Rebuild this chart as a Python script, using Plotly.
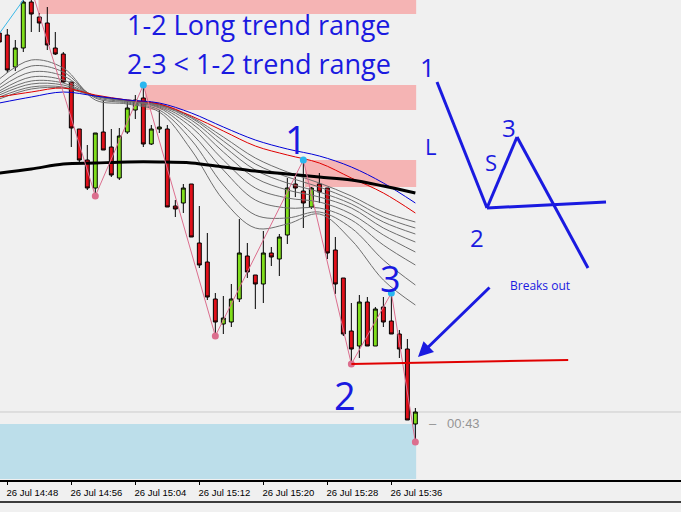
import plotly.graph_objects as go
import pandas as pd

# ---- one-minute candles, 26 Jul 14:47 .. 15:39 (price in points) ----
start = pd.Timestamp("2023-07-26 14:47")
opens  = [447,445,413,432,478,463,457,432,426,398,351,320,292,348,333,302,348,370,382,336,351,351,274,277,296,237,218,181,156,158,181,224,205,196,227,221,245,296,289,273,296,292,230,202,149,134,178,134,173,159,146,131,56]
highs  = [463,451,440,482,491,467,473,448,428,398,351,335,347,380,351,352,380,385,395,355,370,355,280,296,296,274,247,187,184,196,261,237,205,249,233,246,302,303,320,293,307,292,243,202,177,185,183,173,183,187,150,141,72]
lows   = [432,407,409,428,448,448,430,425,397,333,318,290,284,330,303,300,346,361,333,335,347,273,263,267,243,212,180,144,146,153,178,202,171,177,214,204,236,283,252,271,277,221,186,144,116,122,134,134,153,146,122,60,38]
closes = [438,410,432,478,466,457,435,426,398,352,320,292,347,330,305,344,372,380,336,351,353,273,271,292,243,215,183,158,162,181,227,208,196,227,223,243,292,292,277,292,288,227,196,146,131,178,134,171,158,146,131,60,68]
times = [start + pd.Timedelta(minutes=k) for k in range(len(opens))]

# ---- zigzag swing points (minute offset from 14:47, price) ----
zz_min   = [-3, 4, 12, 18, 27, 38, 44, 49, 52]
zz_price = [413, 491, 284, 395, 144, 320, 116, 187, 38]

# ---- moving averages, sampled every 4 minutes ----
ma_min = [0, 4, 8, 12, 16, 20, 24, 28, 32, 36, 40, 44, 48, 52]
ma_slow = [307,311,316,317,318,318,317,313,309,306,303,300,294,287]
ma_blue = [377,383,388,384,380,377,367,353,340,331,324,313,297,277]
ma_red  = [383,388,392,385,380,376,364,349,334,325,317,302,287,267]
ma_grey = [
    [401,420,412,380,376,368,330,280,252,256,266,240,200,175],
    [395,414,408,382,377,370,340,295,265,262,268,252,220,195],
    [392,408,404,383,378,372,347,310,280,272,272,260,235,215],
    [389,403,400,384,379,373,353,320,292,282,278,266,245,228],
    [387,399,397,384,379,374,357,328,302,290,283,272,252,238],
    [385,396,395,384,379,375,360,334,310,297,288,276,258,246],
    [383,393,393,384,379,375,362,339,316,303,293,280,263,252],
    [381,391,392,384,380,376,363,343,322,308,297,284,268,258],
]

# ---- zones (start minute, end minute, low, high) ----
supply_zones = [(4.9, 52.1, 466, 495), (18.2, 52.1, 370, 395), (38.2, 52.1, 293, 320)]
demand_zone = (-2, 52.1, 1, 56)

# ---- breakout line drawn from swing low 2 ----
break_line = [(44, 116), (71.1, 120)]

tick_min = [1, 9, 17, 25, 33, 41, 49]
tick_text = ["26 Jul 14:48", "26 Jul 14:56", "26 Jul 15:04", "26 Jul 15:12",
             "26 Jul 15:20", "26 Jul 15:28", "26 Jul 15:36"]

def t(m):
    return start + pd.Timedelta(seconds=m * 60)

W, H, PLOT_H = 681, 512, 480
BG = "#f0f0f0"
BLUE = "#1a1ae0"
GREEN = "#80de1c"
RED = "#e0101a"

fig = go.Figure()

for z in supply_zones:
    fig.add_shape(type="rect", x0=t(z[0]), x1=t(z[1]), y0=z[2], y1=z[3],
                  fillcolor="#f5b4b4", line_width=0, layer="below")
fig.add_shape(type="rect", x0=t(demand_zone[0]), x1=t(demand_zone[1]),
              y0=demand_zone[2], y1=demand_zone[3],
              fillcolor="#bcdeea", line_width=0, layer="below")

# bid line
fig.add_shape(type="line", xref="paper", x0=0, x1=1, y0=closes[-1], y1=closes[-1],
              line=dict(color="#cbcbcb", width=1), layer="below")

ma_x = [t(m) for m in ma_min]
for g in ma_grey[::-1]:
    fig.add_trace(go.Scatter(x=ma_x, y=g, mode="lines", line=dict(color="#6e6e6e", width=1, shape="spline"),
                             hoverinfo="skip", showlegend=False))
fig.add_trace(go.Scatter(x=ma_x, y=ma_red, mode="lines", line=dict(color="#e00000", width=1, shape="spline"),
                         hoverinfo="skip", showlegend=False))
fig.add_trace(go.Scatter(x=ma_x, y=ma_blue, mode="lines", line=dict(color="#0000d8", width=1, shape="spline"),
                         hoverinfo="skip", showlegend=False))
fig.add_trace(go.Scatter(x=ma_x, y=ma_slow, mode="lines", line=dict(color="#000000", width=3, shape="spline"),
                         hoverinfo="skip", showlegend=False))

fig.add_trace(go.Candlestick(
    x=times, open=opens, high=highs, low=lows, close=closes,
    increasing=dict(line=dict(color="#000000", width=1), fillcolor=GREEN),
    decreasing=dict(line=dict(color="#000000", width=1), fillcolor=RED),
    whiskerwidth=0, showlegend=False, hoverinfo="skip"))

zz_x = [t(m) for m in zz_min]
fig.add_trace(go.Scatter(x=zz_x[:2], y=zz_price[:2], mode="lines",
                         line=dict(color="#3ab8e8", width=1), showlegend=False, hoverinfo="skip"))
fig.add_trace(go.Scatter(x=zz_x[1:], y=zz_price[1:], mode="lines",
                         line=dict(color="#dc6e8e", width=1), showlegend=False, hoverinfo="skip"))
hi_idx = [3, 5, 7]
lo_idx = [2, 4, 6, 8]
fig.add_trace(go.Scatter(x=[zz_x[k] for k in hi_idx], y=[zz_price[k] for k in hi_idx], mode="markers",
                         marker=dict(color="#29b6ee", size=7), showlegend=False, hoverinfo="skip"))
fig.add_trace(go.Scatter(x=[zz_x[k] for k in lo_idx], y=[zz_price[k] for k in lo_idx], mode="markers",
                         marker=dict(color="#dc6e8e", size=7), showlegend=False, hoverinfo="skip"))

fig.add_shape(type="line", x0=t(break_line[0][0]), y0=break_line[0][1],
              x1=t(break_line[1][0]), y1=break_line[1][1], line=dict(color="#e00000", width=2))

def px(x):
    return x / W

def py(y):
    return 1 - y / PLOT_H

# hand-drawn sketch on the right
for (x0, y0, x1, y1) in [(437, 82, 487, 208), (487, 208, 517, 137), (517, 137, 588, 268), (487, 208, 606, 202)]:
    fig.add_shape(type="line", xref="paper", yref="paper", x0=px(x0), y0=py(y0), x1=px(x1), y1=py(y1),
                  line=dict(color=BLUE, width=3))

# bottom frame line under time labels
fig.add_shape(type="line", xref="paper", yref="paper", x0=0, x1=1, y0=py(502), y1=py(502),
              line=dict(color="#000000", width=1.5))

notes = [
    ("1-2 Long trend range", 258, 24, 27),
    ("2-3 &lt; 1-2 trend range", 259, 64, 27),
    ("1", 296, 139, 38),
    ("2", 345, 395, 38),
    ("3", 390, 278, 36),
    ("L", 430, 146, 22),
    ("S", 491, 162, 22),
    ("1", 427, 67, 26),
    ("2", 477, 237, 24),
    ("3", 509, 127, 24),
    ("Breaks out", 540, 285, 12),
]
for txt, x, y, s in notes:
    fig.add_annotation(x=px(x), y=py(y), xref="paper", yref="paper", text=txt, showarrow=False,
                       font=dict(family="Open Sans", size=s, color=BLUE), xanchor="center", yanchor="middle")

fig.add_annotation(x=px(418), y=py(357), xref="paper", yref="paper", ax=73, ay=-71,
                   axref="pixel", ayref="pixel", text="", showarrow=True,
                   arrowhead=2, arrowsize=1, arrowwidth=3, arrowcolor=BLUE)

fig.add_annotation(x=px(427), y=py(423), xref="paper", yref="paper", text="–   00:43", showarrow=False,
                   font=dict(family="Liberation Sans", size=13, color="#959595"), xanchor="left", yanchor="middle")

fig.update_layout(
    width=W, height=H, margin=dict(l=0, r=0, t=0, b=H - PLOT_H),
    paper_bgcolor=BG, plot_bgcolor=BG, showlegend=False,
    xaxis=dict(type="date", range=[t(0.0875), t(85.2)], rangeslider=dict(visible=False),
               showgrid=False, zeroline=False, showline=True, linecolor="#000000", linewidth=1.5,
               ticks="outside", ticklen=3, tickcolor="#000000",
               tickvals=[t(m) for m in tick_min], ticktext=tick_text, ticklabelshift=25,
               tickfont=dict(family="Liberation Sans", size=9.5, color="#000000")),
    yaxis=dict(range=[0, PLOT_H], visible=False, showgrid=False, zeroline=False),
)

fig.write_html("out.html")
